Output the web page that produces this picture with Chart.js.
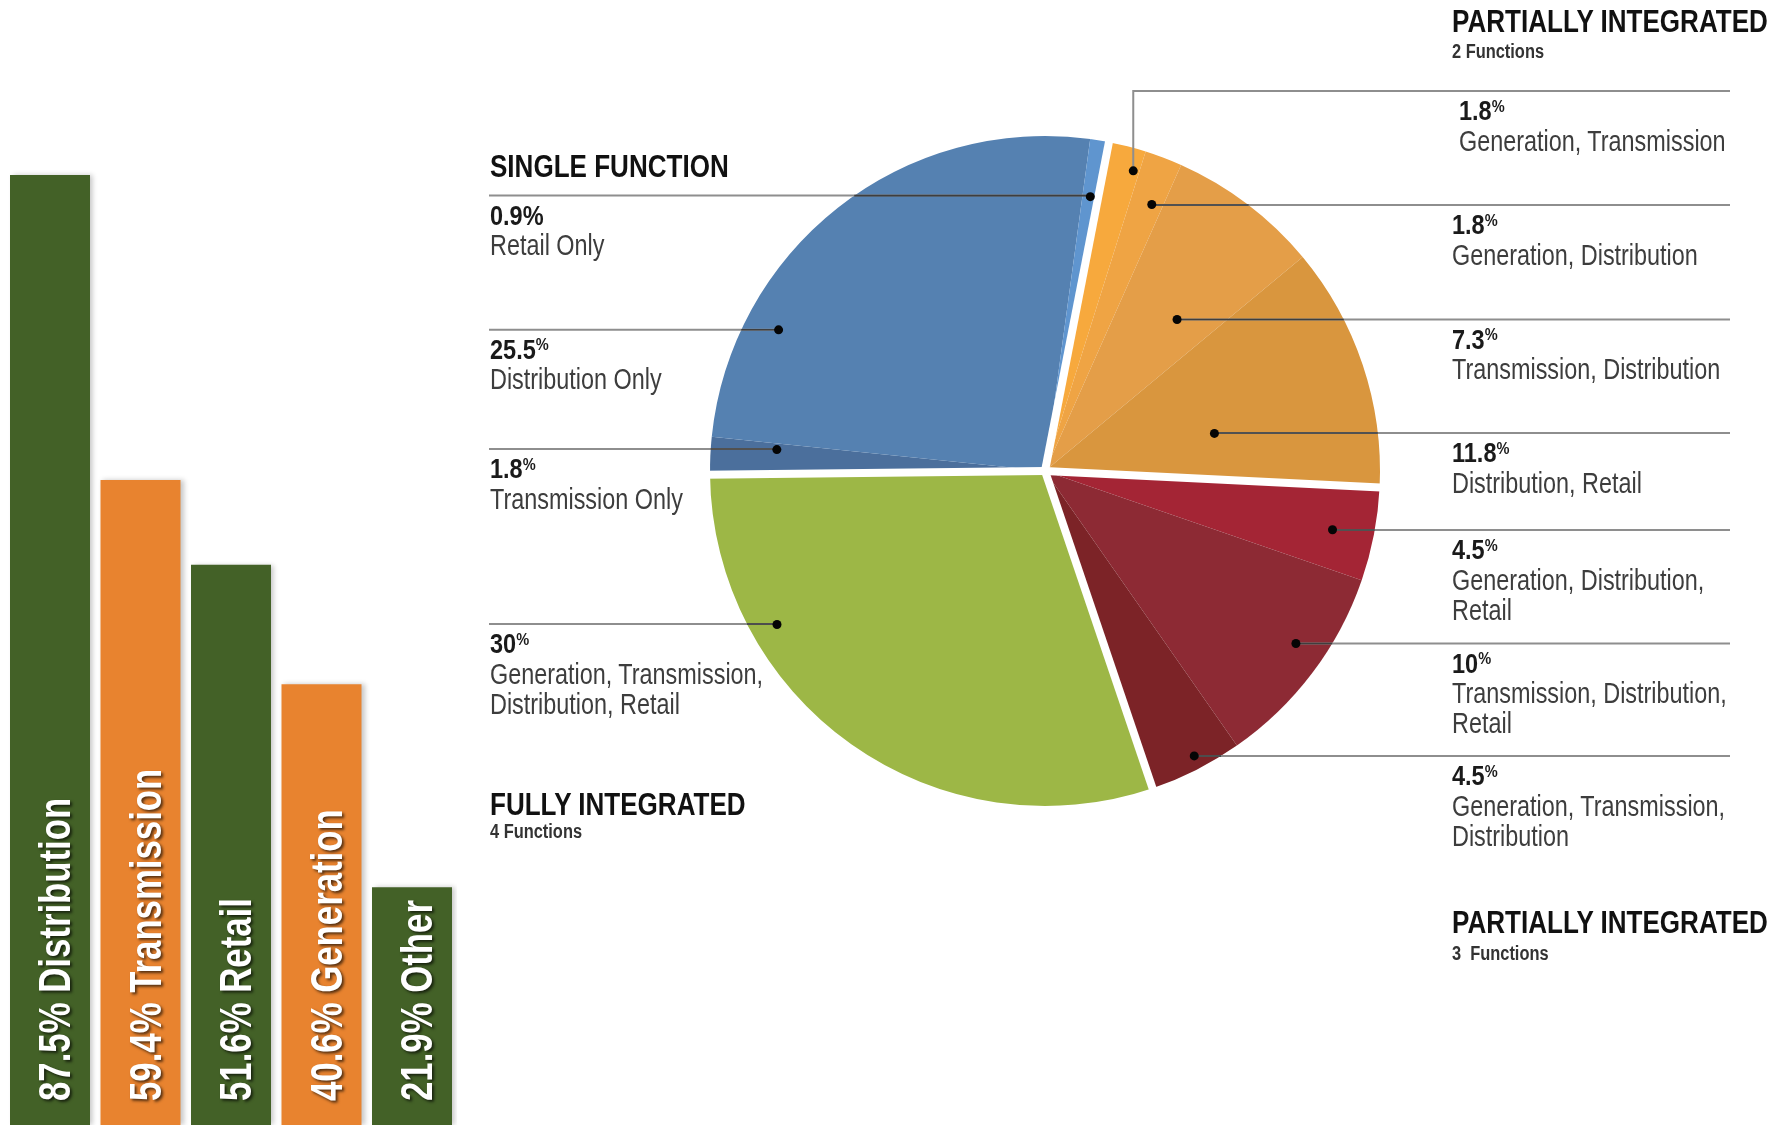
<!DOCTYPE html>
<html>
<head>
<meta charset="utf-8">
<script src="https://cdn.jsdelivr.net/npm/chart.js@4.4.1/dist/chart.umd.min.js"></script>
<style>
    html, body { margin: 0; padding: 0; background: #fff; overflow: hidden; }
    #stage { position: relative; width: 1783px; height: 1125px; }
    canvas { position: absolute; left: 0; top: 0; }
    .t { position: absolute; white-space: nowrap; font-family: 'Liberation Sans', Arial, sans-serif; line-height: 1; transform-origin: 0 0; }
    .t .pct { font-size: 0.62em; position: relative; top: -0.5em; }
</style>
</head>
<body>
<div id="stage">
    <canvas id="pieChart" width="1783" height="1125"></canvas>
    <canvas id="barChart" width="460" height="1125"></canvas>
</div>
<script>
// --- Datos ---
const barCategories = ['Distribution', 'Transmission', 'Retail', 'Generation', 'Other'];
const barValues = [87.5, 59.4, 51.6, 40.6, 21.9];

const sliceLabels = [
    'Generation, Transmission',
    'Generation, Distribution',
    'Transmission, Distribution',
    'Distribution, Retail',
    'Generation, Distribution,\nRetail',
    'Transmission, Distribution,\nRetail',
    'Generation, Transmission,\nDistribution',
    'Generation, Transmission,\nDistribution, Retail',
    'Transmission Only',
    'Distribution Only',
    'Retail Only'
];
const sliceShares = [1.8, 1.8, 7.3, 11.8, 4.5, 10, 4.5, 30, 1.8, 25.5, 0.9];
const sliceGroup = [0, 0, 0, 0, 1, 1, 1, 2, 3, 3, 3];

const groupTitles = ['PARTIALLY INTEGRATED', 'PARTIALLY INTEGRATED', 'FULLY INTEGRATED', 'SINGLE FUNCTION'];
const groupSubtitles = ['2 Functions', '3  Functions', '4 Functions', ''];

// --- Estilos / posiciones ---
const GREEN = '#436127';
const ORANGE = '#e8832f';
const sliceColors = ['#f7a93d', '#efa444', '#e49e48', '#d9963e', '#a42535', '#8d2a34', '#7c2327',
                     '#9db746', '#4b6f9c', '#5581b1', '#5f95cf'];

// lineY: y de la línea guía, frac/rf: posición del punto dentro del sector
const leaderLayout = [
    { side: 'right', lineY: 91, textX: 1459, frac: 0.83, rf: 0.934 },
    { side: 'right', lineY: 205, textX: 1452, frac: 0.67, rf: 0.857 },
    { side: 'right', lineY: 319.5, textX: 1452, frac: 0.65, rf: 0.6 },
    { side: 'right', lineY: 433, textX: 1452, frac: 0.64, rf: 0.518 },
    { side: 'right', lineY: 530, textX: 1452, frac: 0.54, rf: 0.876 },
    { side: 'right', lineY: 643.5, textX: 1452, frac: 0.43, rf: 0.909 },
    { side: 'right', lineY: 756, textX: 1452, frac: 0.45, rf: 0.96 },
    { side: 'left', lineY: 624, textX: 490, frac: 0.73, rf: 0.922 },
    { side: 'left', lineY: 449, textX: 490, frac: 0.8, rf: 0.803 },
    { side: 'left', lineY: 329.7, textX: 490, frac: 0.24, rf: 0.9 },
    { side: 'left', lineY: 195.6, textX: 490, frac: 0.5, rf: 0.83, pctFull: true }
];
const groupTitlePos = [
    { x: 1452, y: 32, subY: 58 },
    { x: 1452, y: 933, subY: 960 },
    { x: 490, y: 815, subY: 838 },
    { x: 490, y: 177, subY: 0 }
];
const LEFT_LINE_X = 489;
const RIGHT_LINE_X = 1730;

const textStyles = {
    head: { size: 31, weight: 'bold', scale: 0.84, color: '#111' },
    sub:  { size: 20, weight: 'bold', scale: 0.82, color: '#333' },
    val:  { size: 28, weight: 'bold', scale: 0.84, color: '#1a1a1a' },
    reg:  { size: 30, weight: 'normal', scale: 0.78, color: '#3d3d3d' }
};

const stage = document.getElementById('stage');
function addText(x, baseline, html, styleName) {
    const s = textStyles[styleName];
    const div = document.createElement('div');
    div.className = 't';
    div.style.left = x + 'px';
    div.style.top = (baseline - 0.8465 * s.size) + 'px';
    div.style.fontSize = s.size + 'px';
    div.style.fontWeight = s.weight;
    div.style.color = s.color;
    div.style.transform = `scaleX(${s.scale})`;
    div.innerHTML = html;
    stage.appendChild(div);
}

// Textos de los grupos
groupTitles.forEach((title, g) => {
    const p = groupTitlePos[g];
    addText(p.x, p.y, title, 'head');
    if (groupSubtitles[g]) addText(p.x, p.subY, groupSubtitles[g].replace(/ /g, '&nbsp;'), 'sub');
});

// Textos de cada sector
sliceLabels.forEach((label, i) => {
    const lay = leaderLayout[i];
    const pct = lay.pctFull ? '%' : '<span class="pct">%</span>';
    addText(lay.textX, lay.lineY + 30, sliceShares[i] + pct, 'val');
    label.split('\n').forEach((line, k) => addText(lay.textX, lay.lineY + 60 + k * 30, line, 'reg'));
});

// --- Plugins del gráfico de barras ---
const barShadow = {
    id: 'barShadow',
    beforeDatasetsDraw(chart) {
        const ctx = chart.ctx;
        ctx.save();
        ctx.shadowColor = 'rgba(0, 0, 0, 0.22)';
        ctx.shadowBlur = 5;
        ctx.shadowOffsetX = 3;
        ctx.shadowOffsetY = 0;
    },
    afterDatasetsDraw(chart) {
        chart.ctx.restore();
    }
};

const barText = {
    id: 'barText',
    afterDraw(chart) {
        const ctx = chart.ctx;
        const meta = chart.getDatasetMeta(0);
        meta.data.forEach((bar, i) => {
            ctx.save();
            ctx.translate(bar.x + 20, chart.chartArea.bottom - 24);
            ctx.rotate(-Math.PI / 2);
            ctx.scale(0.79, 1);
            ctx.font = 'bold 44px "Liberation Sans", Arial, sans-serif';
            ctx.fillStyle = '#fff';
            ctx.textAlign = 'left';
            ctx.textBaseline = 'alphabetic';
            ctx.shadowColor = 'rgba(0, 0, 0, 0.65)';
            ctx.shadowBlur = 3;
            ctx.shadowOffsetX = 2;
            ctx.shadowOffsetY = 2;
            ctx.fillText(barValues[i] + '% ' + barCategories[i], 0, 0);
            ctx.restore();
        });
    }
};

new Chart(document.getElementById('barChart'), {
    type: 'bar',
    data: {
        labels: barCategories,
        datasets: [{
            data: barValues,
            backgroundColor: barCategories.map((_, i) => i % 2 ? ORANGE : GREEN),
            borderWidth: 0,
            categoryPercentage: 1,
            barPercentage: 0.884
        }]
    },
    options: {
        responsive: false, animation: false,
        layout: { padding: { left: 4.75, right: 2.75, top: 39.3, bottom: 0 } },
        scales: { x: { display: false }, y: { display: false, min: 0, max: 100 } },
        plugins: { legend: { display: false }, tooltip: { enabled: false } }
    },
    plugins: [barShadow, barText]
});

// --- Plugins del gráfico circular ---
const groupGaps = {
    id: 'groupGaps',
    afterDatasetsDraw(chart) {
        const ctx = chart.ctx;
        const arcs = chart.getDatasetMeta(0).data;
        ctx.save();
        ctx.strokeStyle = '#fff';
        ctx.lineWidth = 8;
        arcs.forEach((arc, i) => {
            const prev = (i - 1 + arcs.length) % arcs.length;
            if (sliceGroup[i] === sliceGroup[prev]) return;
            const r = arc.outerRadius + 6;
            ctx.beginPath();
            ctx.moveTo(arc.x, arc.y);
            ctx.lineTo(arc.x + Math.cos(arc.startAngle) * r, arc.y + Math.sin(arc.startAngle) * r);
            ctx.stroke();
        });
        ctx.restore();
    }
};

const leaders = {
    id: 'leaders',
    afterDatasetsDraw(chart) {
        const ctx = chart.ctx;
        const arcs = chart.getDatasetMeta(0).data;
        ctx.save();
        arcs.forEach((arc, i) => {
            const lay = leaderLayout[i];
            const a = arc.startAngle + lay.frac * (arc.endAngle - arc.startAngle);
            const px = arc.x + Math.cos(a) * arc.outerRadius * lay.rf;
            const py = arc.y + Math.sin(a) * arc.outerRadius * lay.rf;
            const endX = lay.side === 'left' ? LEFT_LINE_X : RIGHT_LINE_X;

            ctx.strokeStyle = '#8e8e8e';
            ctx.lineWidth = 2;
            ctx.beginPath();
            ctx.moveTo(endX, lay.lineY);
            ctx.lineTo(px, lay.lineY);
            ctx.lineTo(px, py);
            ctx.stroke();

            // tramo dentro del círculo, más oscuro
            const dy = lay.lineY - arc.y;
            if (Math.abs(dy) < arc.outerRadius) {
                const half = Math.sqrt(arc.outerRadius * arc.outerRadius - dy * dy);
                const edge = lay.side === 'left' ? arc.x - half : arc.x + half;
                ctx.strokeStyle = 'rgba(35, 35, 35, 0.75)';
                ctx.lineWidth = 1.6;
                ctx.beginPath();
                ctx.moveTo(edge, lay.lineY);
                ctx.lineTo(px, lay.lineY);
                ctx.stroke();
            }

            ctx.fillStyle = '#050505';
            ctx.beginPath();
            ctx.arc(px, py, 4.5, 0, Math.PI * 2);
            ctx.fill();
        });
        ctx.restore();
    }
};

new Chart(document.getElementById('pieChart'), {
    type: 'pie',
    data: {
        labels: sliceLabels,
        datasets: [{ data: sliceShares, backgroundColor: sliceColors, borderWidth: 0 }]
    },
    options: {
        responsive: false, animation: false,
        rotation: 11,
        layout: { padding: { left: 710, top: 136, right: 403, bottom: 319 } },
        plugins: { legend: { display: false }, tooltip: { enabled: false } }
    },
    plugins: [groupGaps, leaders]
});
</script>
</body>
</html>
